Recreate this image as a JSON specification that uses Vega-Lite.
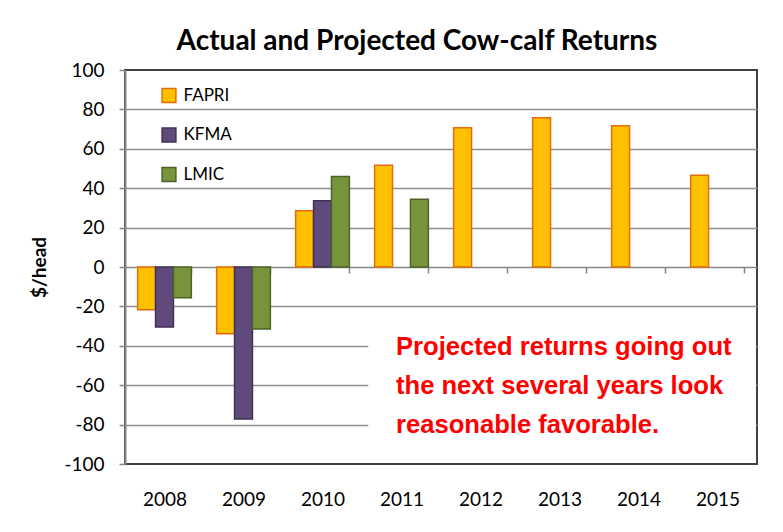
{
  "$schema": "https://vega.github.io/schema/vega-lite/v6.json",
  "width": 632,
  "height": 394,
  "autosize": {"type": "none"},
  "padding": {"left": 125, "top": 70, "right": 26, "bottom": 68},
  "background": "white",
  "config": {"view": {"stroke": "#404040", "strokeWidth": 2}, "font": "Lato"},
  "title": {
    "text": "Actual and Projected Cow-calf Returns",
    "font": "Lato", "fontSize": 28, "fontWeight": "bold", "color": "#000000",
    "anchor": "middle", "dx": -24, "offset": -17, "baseline": "alphabetic"
  },
  "resolve": {"scale": {"x": "independent"}, "axis": {"y": "independent"}},
  "layer": [
    {
      "data": {"values": [
        {"year": "2008", "series": "FAPRI", "value": -21.7},
        {"year": "2008", "series": "KFMA", "value": -30.5},
        {"year": "2008", "series": "LMIC", "value": -15.6},
        {"year": "2009", "series": "FAPRI", "value": -33.9},
        {"year": "2009", "series": "KFMA", "value": -77.1},
        {"year": "2009", "series": "LMIC", "value": -31.5},
        {"year": "2010", "series": "FAPRI", "value": 28.5},
        {"year": "2010", "series": "KFMA", "value": 33.6},
        {"year": "2010", "series": "LMIC", "value": 46.0},
        {"year": "2011", "series": "FAPRI", "value": 51.7},
        {"year": "2011", "series": "LMIC", "value": 34.4},
        {"year": "2012", "series": "FAPRI", "value": 70.7},
        {"year": "2013", "series": "FAPRI", "value": 75.7},
        {"year": "2014", "series": "FAPRI", "value": 71.7},
        {"year": "2015", "series": "FAPRI", "value": 46.6}
      ]},
      "mark": {"type": "bar", "strokeWidth": 1.5},
      "encoding": {
        "x": {
          "field": "year", "type": "nominal",
          "scale": {"domain": ["2008","2009","2010","2011","2012","2013","2014","2015"], "paddingInner": 0.32, "paddingOuter": 0.16},
          "axis": {
            "orient": "bottom", "offset": -197, "title": null, "labelAngle": 0,
            "domainColor": "#868686", "domainWidth": 1.5,
            "tickBand": "extent", "tickColor": "#868686", "tickSize": 6, "tickWidth": 1.5,
            "labelFont": "Lato", "labelFontSize": 19, "labelColor": "#000000", "labelPadding": 217,
            "grid": false
          }
        },
        "xOffset": {"field": "series", "scale": {"domain": ["FAPRI", "KFMA", "LMIC"], "paddingInner": 0, "paddingOuter": 0}},
        "y": {
          "field": "value", "type": "quantitative",
          "scale": {"domain": [-100, 100], "nice": false},
          "axis": {
            "values": [-100, -80, -60, -40, -20, 0, 20, 40, 60, 80, 100],
            "labelOverlap": false,
            "labelExpr": "datum.value < 0 ? '-' + abs(datum.value) : '' + datum.value",
            "domainColor": "#868686", "domainWidth": 2,
            "tickColor": "#868686", "tickSize": 6, "tickWidth": 1.5,
            "labelFont": "Lato", "labelFontSize": 19, "labelColor": "#000000", "labelPadding": 15,
            "grid": true, "gridColor": "#8e8e8e", "gridWidth": 1.5,
            "gridOpacity": {"condition": {"test": "abs(datum.value) === 100 || datum.value === 0", "value": 0}, "value": 1},
            "title": "$/head", "titleFont": "Lato", "titleFontSize": 19, "titleFontWeight": "bold", "titleColor": "#000000", "titlePadding": 14
          }
        },
        "fill": {
          "field": "series", "type": "nominal",
          "scale": {"domain": ["FAPRI", "KFMA", "LMIC"], "range": ["#FFC000", "#604A7B", "#77933C"]},
          "legend": {
            "orient": "none", "legendX": 35.5, "legendY": 17, "title": null, "direction": "vertical",
            "symbolType": "square", "symbolSize": 190, "symbolStrokeWidth": 1.5,
            "labelFont": "Lato", "labelFontSize": 17, "labelColor": "#000000", "labelOffset": 6, "rowPadding": 18.5
          }
        },
        "stroke": {
          "field": "series", "type": "nominal",
          "scale": {"domain": ["FAPRI", "KFMA", "LMIC"], "range": ["#E46C0A", "#3F3151", "#4F6228"]},
          "legend": {
            "orient": "none", "legendX": 35.5, "legendY": 17, "title": null, "direction": "vertical",
            "symbolType": "square", "symbolSize": 190, "symbolStrokeWidth": 1.5,
            "labelFont": "Lato", "labelFontSize": 17, "labelColor": "#000000", "labelOffset": 6, "rowPadding": 18.5
          }
        }
      }
    },
    {
      "data": {"values": [{"x0": 3.08, "x1": 7.985, "y0": -20.8, "y1": -99.3}]},
      "mark": {"type": "rect", "fill": "white", "strokeWidth": 0},
      "encoding": {
        "x": {"field": "x0", "type": "quantitative", "scale": {"domain": [0, 8], "nice": false, "zero": false}, "axis": null},
        "x2": {"field": "x1"},
        "y": {"field": "y0", "type": "quantitative", "axis": null},
        "y2": {"field": "y1"}
      }
    },
    {
      "data": {"values": [{"px": 3.43, "py": -44.9, "note": "Projected returns going out\nthe next several years look\nreasonable favorable."}]},
      "mark": {"type": "text", "font": "Liberation Sans", "fontWeight": "bold", "fontSize": 25.6, "color": "#FF0000", "align": "left", "baseline": "alphabetic", "lineHeight": 39, "lineBreak": "\n"},
      "encoding": {
        "x": {"field": "px", "type": "quantitative", "scale": {"domain": [0, 8], "nice": false, "zero": false}, "axis": null},
        "y": {"field": "py", "type": "quantitative", "axis": null},
        "text": {"field": "note"}
      }
    }
  ]
}
